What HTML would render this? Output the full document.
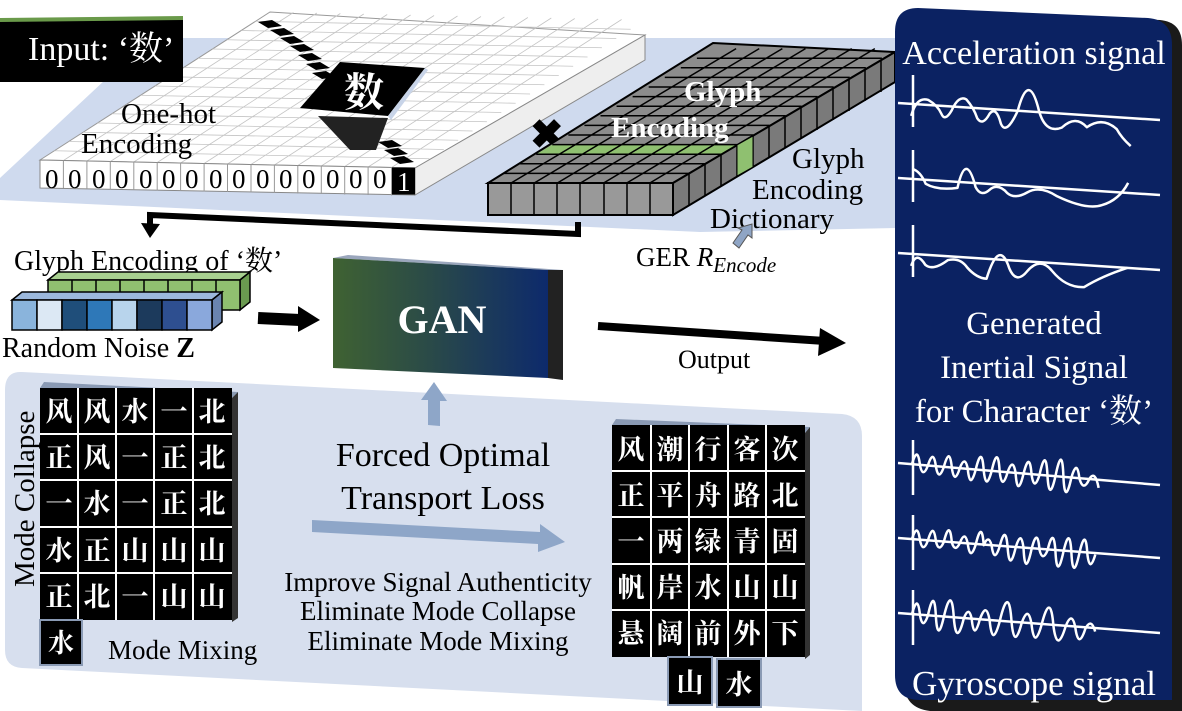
<!DOCTYPE html>
<html><head><meta charset="utf-8"><style>
html,body{margin:0;padding:0;background:#fff;}
svg{display:block;}
text{font-family:"Liberation Serif","Noto Serif CJK SC","Noto Sans CJK SC",serif;}
.cj{font-family:"Noto Serif CJK SC","Noto Sans CJK SC",serif;font-weight:bold;}
</style></head><body>
<svg width="1182" height="711" viewBox="0 0 1182 711" xmlns="http://www.w3.org/2000/svg">
<defs>
<linearGradient id="gan" x1="0" x2="1" y1="0" y2="0"><stop offset="0" stop-color="#3f6232"/><stop offset="0.45" stop-color="#2a4a48"/><stop offset="1" stop-color="#0d2a6c"/></linearGradient>
</defs>

<!-- top light-blue plane -->
<polygon points="0,178 150,38 895,38 895,228 700,232 0,200" fill="#cfdaee"/>

<!-- one-hot white grid -->
<g>
<polygon points="40,160 415,168 645,35 270,12" fill="#fff" stroke="#999" stroke-width="1"/>
<g transform="matrix(23.44,0.5,14.375,-9.25,40,160)" stroke="#c4c4c4" stroke-width="0.8" fill="none">
<path vector-effect="non-scaling-stroke" d="M1,0V16M2,0V16M3,0V16M4,0V16M5,0V16M6,0V16M7,0V16M8,0V16M9,0V16M10,0V16M11,0V16M12,0V16M13,0V16M14,0V16M15,0V16M0,1H16M0,2H16M0,3H16M0,4H16M0,5H16M0,6H16M0,7H16M0,8H16M0,9H16M0,10H16M0,11H16M0,12H16M0,13H16M0,14H16M0,15H16"/>
</g>
<!-- diagonal black cells -->
<g fill="#000">
<polygon points="258,22 272,20 282,26 268,28"/>
<polygon points="270,30 284,28 294,34 280,36"/>
<polygon points="280,38 294,36 304,42 290,44"/>
<polygon points="290,46 304,44 314,50 300,52"/>
<polygon points="298,55 312,53 322,59 308,61"/>
<polygon points="306,64 320,62 330,68 316,70"/>
<polygon points="312,73 326,71 336,77 322,79"/>
<polygon points="378,142 392,140 402,146 388,148"/>
<polygon points="384,150 398,148 408,154 394,156"/>
<polygon points="390,158 404,156 414,162 400,164"/>
</g>
<!-- big 数 tile -->
<polygon points="300,108 340,62 425,68 388,116" fill="#000"/>
<polygon points="388,116 425,68 428,70 391,120" fill="#c8d4e8"/>
<polygon points="318,116 388,118 376,150 350,150" fill="#222"/>
<text x="364" y="106" font-size="40" fill="#fff" text-anchor="middle" class="cj">数</text>
<!-- front face -->
<polygon points="40,160 415,168 415,195 40,188" fill="#fff" stroke="#888"/>
<polygon points="415,168 645,35 645,60 415,195" fill="#eee" stroke="#888"/>
<g stroke="#999" stroke-width="1">
<path d="M63.4,160.5v27.5M86.9,161v28M110.3,161.5v28M133.8,162v28M157.2,162.5v28M180.6,163v28M204.1,163.5v28M227.5,164v28M251,164.5v28M274.4,165v28M297.8,165.5v28M321.3,166v28M344.7,166.5v28M368.1,167v28M391.6,167.5v28"/>
</g>
<rect x="392" y="167.5" width="23" height="27" fill="#000"/>
<text font-size="27" fill="#000" y="188"><tspan x="45">0</tspan><tspan x="68">0</tspan><tspan x="92">0</tspan><tspan x="115">0</tspan><tspan x="139">0</tspan><tspan x="162">0</tspan><tspan x="185">0</tspan><tspan x="209">0</tspan><tspan x="232">0</tspan><tspan x="256">0</tspan><tspan x="279">0</tspan><tspan x="302">0</tspan><tspan x="326">0</tspan><tspan x="349">0</tspan><tspan x="373">0</tspan></text>
<text x="397" y="191" font-size="27" fill="#fff">1</text>
</g>
<text x="121" y="123" font-size="29">One-hot</text>
<text x="81" y="153" font-size="29">Encoding</text>

<!-- Input box -->
<rect x="0" y="18" width="183" height="64" fill="#000"/>
<polygon points="0,18 183,16 183,20 0,22" fill="#6a9a4a"/>
<text x="28" y="60" font-size="34" fill="#fff">Input: ‘数’</text>

<!-- X -->
<text x="530" y="148" font-size="40" font-weight="bold" fill="#000" font-family="Liberation Sans,sans-serif">✖</text>

<!-- gray grid -->
<polygon points="488,183 673,183 895,52 713,43" fill="#8c8c8c" stroke="#000" stroke-width="2"/>
<g transform="matrix(23.125,0,16.07,-9.6,488,183)" fill="none" stroke="#000">
<rect x="0" y="3" width="8" height="1" fill="#8fc070" stroke="none"/>
<path vector-effect="non-scaling-stroke" stroke-width="1.5" d="M1,0V14M2,0V14M3,0V14M4,0V14M5,0V14M6,0V14M7,0V14M0,1H8M0,2H8M0,3H8M0,4H8M0,5H8M0,6H8M0,7H8M0,8H8M0,9H8M0,10H8M0,11H8M0,12H8M0,13H8"/>
</g>
<polygon points="488,183 673,183 673,215 488,215" fill="#999" stroke="#000" stroke-width="2"/>
<polygon points="673,183 895,52 895,82 673,215" fill="#7a7a7a" stroke="#000" stroke-width="2"/>
<path d="M511,183v32M534,183v32M557,183v32M580,183v32M604,183v32M627,183v32M650,183v32M689,174v31M705,164v31M721,155v31M737,145v31M753,136v31M769,127v31M785,117v31M801,108v31M817,99v31M833,89v31M849,80v31M865,70v31M881,61v31" stroke="#000" stroke-width="1.5"/>
<polygon points="737,145 753,136 753,167 737,176" fill="#8fc070" stroke="#000"/>
<text x="684" y="101" font-size="29" font-weight="bold" fill="#fff">Glyph</text>
<text x="611" y="137" font-size="29" font-weight="bold" fill="#fff">Encoding</text>
<text x="792" y="168" font-size="29">Glyph</text>
<text x="752" y="199" font-size="29">Encoding</text>
<text x="710" y="228" font-size="29">Dictionary</text>
<polygon points="733,243 742,230 738,228 752,224 752,238 748,235 739,248" fill="#8fa5c5" stroke="#555"/>
<text x="636" y="266" font-size="27">GER <tspan font-style="italic">R</tspan><tspan font-style="italic" font-size="21" dy="6">Encode</tspan></text>

<!-- L arrow -->
<path d="M578,222 L578,234 L150,215 L150,225" fill="none" stroke="#000" stroke-width="6"/>
<polygon points="141,223 160,224 150,238" fill="#000"/>

<!-- glyph encoding bars -->
<text x="14" y="270" font-size="28">Glyph Encoding of ‘数’</text>
<g stroke="#000" stroke-width="1.5">
<polygon points="48,280 58,272 250,272 240,280" fill="#a8d090"/>
<polygon points="240,280 250,272 250,302 240,310" fill="#6a9a50"/>
<rect x="48" y="280" width="192" height="30" fill="#90c070"/>
<path d="M72,280v30M96,280v30M120,280v30M144,280v30M168,280v30M192,280v30M216,280v30" />
<polygon points="12,300 22,292 222,292 212,300" fill="#9cb8dc"/>
<polygon points="212,300 222,292 222,322 212,330" fill="#6a84b0"/>
<rect x="12" y="300" width="25" height="30" fill="#8ab4dc"/>
<rect x="37" y="300" width="25" height="30" fill="#dce8f4"/>
<rect x="62" y="300" width="25" height="30" fill="#1f4e7a"/>
<rect x="87" y="300" width="25" height="30" fill="#2e78b8"/>
<rect x="112" y="300" width="25" height="30" fill="#b8d4ec"/>
<rect x="137" y="300" width="25" height="30" fill="#1c3a5c"/>
<rect x="162" y="300" width="25" height="30" fill="#2e4f90"/>
<rect x="187" y="300" width="25" height="30" fill="#8aa8dc"/>
</g>
<text x="2" y="357" font-size="28">Random Noise <tspan font-weight="bold">Z</tspan></text>
<!-- arrow to GAN -->
<path d="M258,318 L300,320" stroke="#000" stroke-width="12"/>
<polygon points="298,306 320,320 298,332" fill="#000"/>

<!-- GAN -->
<polygon points="333,258 548,270 563,270 348,255" fill="#9aa6bc"/>
<polygon points="548,270 563,270 563,380 548,378" fill="#222"/>
<polygon points="333,258 548,270 548,378 333,368" fill="url(#gan)"/>
<text x="442" y="333" font-size="40" font-weight="bold" fill="#fff" text-anchor="middle">GAN</text>

<!-- Output arrow -->
<path d="M598,326 L825,341" stroke="#000" stroke-width="8"/>
<polygon points="820,328 846,343 818,356" fill="#000"/>
<text x="678" y="368" font-size="26">Output</text>

<!-- bottom panel -->
<path d="M22,372 L842,414 Q862,416 862,436 L862,711 L22,668 Q5,667 5,650 L5,390 Q5,371 22,372Z" fill="#d7dfee"/>
<!-- up arrow -->
<polygon points="428,425 428,400 421,400 434,382 447,401 440,401 440,426" fill="#8ea6c8"/>
<text x="443" y="466" font-size="34" text-anchor="middle">Forced Optimal</text>
<text x="443" y="509" font-size="34" text-anchor="middle">Transport Loss</text>
<polygon points="312,520 540,532 540,524 565,542 538,552 538,544 312,532" fill="#8ea6c8"/>
<text x="438" y="591" font-size="27" text-anchor="middle">Improve Signal Authenticity</text>
<text x="438" y="620" font-size="27" text-anchor="middle">Eliminate Mode Collapse</text>
<text x="438" y="650" font-size="27" text-anchor="middle">Eliminate Mode Mixing</text>

<!-- left grid -->
<polygon points="40,388 232,398 238,392 44,382" fill="#8a9ab4"/>
<polygon points="232,398 238,392 238,618 232,622" fill="#333"/>
<rect x="40" y="388" width="192" height="232" fill="#000"/>
<path d="M78,388v232M116,388v232M154,388v232M193,388v232M40,434h192M40,480h192M40,527h192M40,573h192" stroke="#fff" stroke-width="2"/>
<g class="cj" font-size="27" fill="#fff" text-anchor="middle">
<text y="421"><tspan x="59">风</tspan><tspan x="97">风</tspan><tspan x="135">水</tspan><tspan x="174">一</tspan><tspan x="212">北</tspan></text>
<text y="467"><tspan x="59">正</tspan><tspan x="97">风</tspan><tspan x="135">一</tspan><tspan x="174">正</tspan><tspan x="212">北</tspan></text>
<text y="513"><tspan x="59">一</tspan><tspan x="97">水</tspan><tspan x="135">一</tspan><tspan x="174">正</tspan><tspan x="212">北</tspan></text>
<text y="560"><tspan x="59">水</tspan><tspan x="97">正</tspan><tspan x="135">山</tspan><tspan x="174">山</tspan><tspan x="212">山</tspan></text>
<text y="606"><tspan x="59">正</tspan><tspan x="97">北</tspan><tspan x="135">一</tspan><tspan x="174">山</tspan><tspan x="212">山</tspan></text>
</g>
<text transform="translate(34,587) rotate(-90)" font-size="29">Mode Collapse</text>
<rect x="40" y="620" width="42" height="45" fill="#000" stroke="#8a9ab4" stroke-width="2"/>
<text x="61" y="652" class="cj" font-size="26" fill="#fff" text-anchor="middle">水</text>
<text x="108" y="659" font-size="27">Mode Mixing</text>

<!-- right grid -->
<polygon points="612,425 805,433 810,427 616,419" fill="#8a9ab4"/>
<polygon points="805,433 810,427 810,655 805,659" fill="#333"/>
<rect x="612" y="425" width="193" height="232" fill="#000"/>
<path d="M651,425v232M689,425v232M728,425v232M766,425v232M612,471h193M612,517h193M612,564h193M612,610h193" stroke="#fff" stroke-width="2"/>
<g class="cj" font-size="27" fill="#fff" text-anchor="middle">
<text y="459"><tspan x="631">风</tspan><tspan x="670">潮</tspan><tspan x="708">行</tspan><tspan x="747">客</tspan><tspan x="785">次</tspan></text>
<text y="505"><tspan x="631">正</tspan><tspan x="670">平</tspan><tspan x="708">舟</tspan><tspan x="747">路</tspan><tspan x="785">北</tspan></text>
<text y="551"><tspan x="631">一</tspan><tspan x="670">两</tspan><tspan x="708">绿</tspan><tspan x="747">青</tspan><tspan x="785">固</tspan></text>
<text y="597"><tspan x="631">帆</tspan><tspan x="670">岸</tspan><tspan x="708">水</tspan><tspan x="747">山</tspan><tspan x="785">山</tspan></text>
<text y="643"><tspan x="631">悬</tspan><tspan x="670">阔</tspan><tspan x="708">前</tspan><tspan x="747">外</tspan><tspan x="785">下</tspan></text>
</g>
<rect x="668" y="657" width="44" height="48" fill="#000" stroke="#8a9ab4" stroke-width="2"/>
<rect x="717" y="659" width="44" height="48" fill="#000" stroke="#8a9ab4" stroke-width="2"/>
<text x="690" y="692" class="cj" font-size="27" fill="#fff" text-anchor="middle">山</text>
<text x="739" y="694" class="cj" font-size="27" fill="#fff" text-anchor="middle">水</text>

<!-- right panel -->
<path d="M915,10 L1160,20 Q1182,22 1182,45 L1182,711 L930,711 Q904,708 904,682 Z" fill="#1a1a1a"/>
<path d="M918,8 L1148,18 Q1172,20 1172,45 L1172,700 L920,700 Q895,700 895,675 L895,32 Q895,8 918,8Z" fill="#0b2262"/>
<g fill="#fff" text-anchor="middle">
<text x="1034" y="64" font-size="34">Acceleration signal</text>
<text x="1034" y="334" font-size="33">Generated</text>
<text x="1034" y="378" font-size="33">Inertial Signal</text>
<text x="1034" y="422" font-size="33">for  Character ‘数’</text>
<text x="1034" y="695" font-size="35">Gyroscope signal</text>
</g>
<g stroke="#fff" stroke-width="2.5" fill="none" stroke-linejoin="round">
<path d="M913,75v52M898,103L1160,120"/><path d="M913,150v52M898,178L1160,195"/><path d="M913,225v52M898,253L1160,270"/>
<path d="M913,440v55M898,463L1160,485"/><path d="M913,515v55M898,538L1160,558"/><path d="M913,590v55M898,613L1160,633"/>
<g transform="translate(898,103) rotate(3.7)">
<path d="M14,12 Q18,-8 30,-5 Q40,0 44,8 Q48,16 54,4 Q60,-12 68,-8 Q76,0 80,10 Q86,18 92,5 Q98,-4 104,14 Q110,26 120,0 Q128,-40 140,-5 Q148,22 165,14 Q178,0 190,12 Q205,0 220,12 Q225,20 235,28"/>
</g>
<g transform="translate(898,178) rotate(3.7)">
<path d="M14,-10 Q22,-8 28,4 Q40,10 60,6 Q66,-32 78,4 Q84,14 92,6 Q100,-2 110,8 Q118,14 130,6 Q142,-2 160,8 Q190,20 205,14 Q222,8 230,-10"/>
</g>
<g transform="translate(898,253) rotate(3.7)">
<path d="M14,12 Q18,-4 28,10 Q36,16 50,4 Q62,0 70,10 Q80,20 90,20 Q100,-22 112,8 Q120,24 130,10 Q142,-6 155,8 Q170,24 188,22 Q205,10 230,0"/>
</g>
<g transform="translate(898,463) rotate(4.8)">
<path d="M14,0 q4,-20 8,0 q4,14 8,0 q4,-18 8,0 q4,16 8,0 q4,-22 8,0 q4,18 8,0 q4,-14 8,0 q4,22 8,0 q4,-26 8,0 q4,22 8,0 q4,-28 8,0 q4,20 8,0 q4,-16 8,0 q4,26 8,0 q4,-24 8,0 q4,18 8,0 q4,-30 8,0 q4,28 8,0 q4,-34 8,0 q4,30 8,0 q4,-20 8,0 q5,14 10,0 q5,-10 10,8"/>
</g>
<g transform="translate(898,538) rotate(4.8)">
<path d="M14,0 q4,-18 8,0 q4,14 8,0 q4,-20 8,0 q4,12 8,0 q4,-24 8,0 q4,10 8,0 q4,-14 8,0 q4,18 8,0 q4,-26 8,0 q4,-12 8,0 q4,18 8,0 q4,-24 8,0 q4,26 8,0 q4,-20 8,0 q4,30 8,0 q4,-24 8,0 q4,12 8,0 q4,-26 8,0 q4,30 8,0 q4,-28 8,0 q4,30 8,0 q4,-28 8,0 q4,20 8,0"/>
</g>
<g transform="translate(898,613) rotate(4.8)">
<path d="M14,0 q4,-22 8,0 q4,16 8,0 q4,-30 8,0 q4,28 8,0 q5,-34 10,0 q5,30 10,0 q4,-14 8,0 q4,22 8,0 q5,-20 10,0 q5,28 10,0 q6,-40 12,0 q5,28 10,0 q5,-20 10,0 q5,26 10,0 q6,-36 12,0 q6,28 12,0 q5,-18 10,0 q5,22 10,0 q5,-12 10,2"/>
</g>
</g>
</svg>
</body></html>
